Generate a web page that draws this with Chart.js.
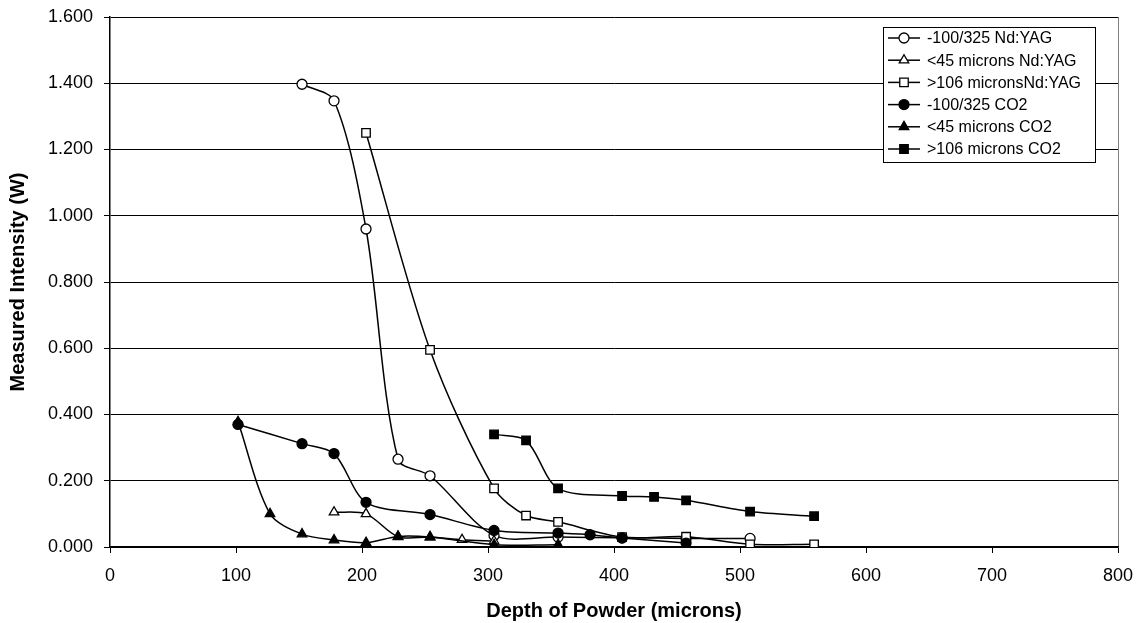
<!DOCTYPE html>
<html>
<head>
<meta charset="utf-8">
<script src="https://cdn.jsdelivr.net/npm/chart.js@4/dist/chart.umd.min.js"></script>
<style>
  html, body { margin: 0; padding: 0; background: #fff; }
  #wrap { width: 1140px; height: 623px; }
</style>
</head>
<body>
<div id="wrap"><canvas id="powderChart" width="1140" height="623"></canvas></div>
<script>
// series names (legend order)
const seriesNames = ['-100/325 Nd:YAG', '<45 microns Nd:YAG', '>106 micronsNd:YAG',
                     '-100/325 CO2', '<45 microns CO2', '>106 microns CO2'];

// depth of powder (microns) per series
const depthNdFine   = [152.4, 177.8, 203.2, 228.6, 254, 304.8, 355.6, 406.4, 457.2, 508];
const depthNdSmall  = [177.8, 203.2, 228.6, 254, 279.4, 304.8];
const depthNdCoarse = [203.2, 254, 304.8, 330.2, 355.6, 406.4, 457.2, 508, 558.8];
const depthCoFine   = [101.6, 152.4, 177.8, 203.2, 254, 304.8, 355.6, 381, 406.4, 457.2];
const depthCoSmall  = [101.6, 127, 152.4, 177.8, 203.2, 228.6, 254, 304.8, 355.6];
const depthCoCoarse = [304.8, 330.2, 355.6, 406.4, 431.8, 457.2, 508, 558.8];

// measured intensity (W) per series
const wNdFine   = [1.397, 1.347, 0.960, 0.265, 0.215, 0.035, 0.030, 0.028, 0.026, 0.026];
const wNdSmall  = [0.105, 0.100, 0.031, 0.030, 0.022, 0.018];
const wNdCoarse = [1.250, 0.595, 0.177, 0.095, 0.076, 0.030, 0.031, 0.008, 0.008];
const wCoFine   = [0.370, 0.312, 0.282, 0.135, 0.098, 0.050, 0.042, 0.037, 0.027, 0.012];
const wCoSmall  = [0.378, 0.100, 0.039, 0.021, 0.013, 0.032, 0.030, 0.007, 0.007];
const wCoCoarse = [0.340, 0.322, 0.177, 0.154, 0.151, 0.141, 0.107, 0.093];

const xTicks = [0, 100, 200, 300, 400, 500, 600, 700, 800];
const yTicks = [0, 0.2, 0.4, 0.6, 0.8, 1.0, 1.2, 1.4, 1.6];

const depths = [depthNdFine, depthNdSmall, depthNdCoarse, depthCoFine, depthCoSmall, depthCoCoarse];
const values = [wNdFine, wNdSmall, wNdCoarse, wCoFine, wCoSmall, wCoCoarse];
const styles = ['circle', 'triangle', 'rect', 'circle', 'triangle', 'rect'];
const filled = [false, false, false, true, true, true];
const radii  = { circle: 5, triangle: 5.5, rect: 6 };

function toPoints(xs, ys) {
  return xs.map((x, i) => ({ x: x, y: ys[i] }));
}

const datasets = seriesNames.map((name, i) => ({
  label: name,
  data: toPoints(depths[i], values[i]),
  borderColor: '#000',
  borderWidth: 1.5,
  backgroundColor: filled[i] ? '#000' : '#fff',
  pointStyle: styles[i],
  pointRadius: radii[styles[i]],
  pointBorderColor: '#000',
  pointBorderWidth: 1.3,
  pointBackgroundColor: filled[i] ? '#000' : '#fff',
  tension: 0.3,
  fill: false,
  order: 5 - i
}));

// legend box drawn inside the plot, like the original
const boxLegend = {
  id: 'boxLegend',
  afterDraw(chart) {
    const ctx = chart.ctx;
    const left = 883, top = 27, w = 212, h = 135, rowH = 22.2;
    ctx.save();
    ctx.fillStyle = '#fff';
    ctx.strokeStyle = '#000';
    ctx.lineWidth = 1;
    ctx.fillRect(left, top, w, h);
    ctx.strokeRect(left + 0.5, top + 0.5, w, h);
    ctx.font = '16px Arial, "Liberation Sans", sans-serif';
    ctx.textBaseline = 'middle';
    chart.data.datasets.forEach((ds, i) => {
      const y = top + 11 + i * rowH;
      ctx.strokeStyle = '#000';
      ctx.lineWidth = 1.5;
      ctx.beginPath();
      ctx.moveTo(left + 5, y);
      ctx.lineTo(left + 37, y);
      ctx.stroke();
      ctx.fillStyle = ds.pointBackgroundColor;
      ctx.strokeStyle = '#000';
      ctx.lineWidth = 1.3;
      Chart.helpers.drawPoint(ctx, {
        pointStyle: ds.pointStyle, radius: ds.pointRadius, rotation: 0, borderWidth: 1.3
      }, left + 21, y);
      ctx.fillStyle = '#000';
      ctx.fillText(ds.label, left + 44, y + 1);
    });
    ctx.restore();
  }
};

const tickFont = { family: 'Arial, "Liberation Sans", sans-serif', size: 18 };
const titleFont = { family: 'Arial, "Liberation Sans", sans-serif', size: 20, weight: 'bold' };

new Chart(document.getElementById('powderChart').getContext('2d'), {
  type: 'line',
  data: { datasets: datasets },
  options: {
    responsive: false,
    animation: false,
    devicePixelRatio: 1,
    layout: { padding: { top: 17, right: 22, bottom: 0, left: 0 } },
    plugins: {
      legend: { display: false },
      tooltip: { enabled: false }
    },
    scales: {
      x: {
        type: 'linear',
        min: 0,
        max: 800,
        afterBuildTicks(scale) { scale.ticks = xTicks.map(v => ({ value: v })); },
        afterFit(scale) { scale.height = 76; scale.paddingLeft = 0; scale.paddingRight = 0; },
        ticks: { font: tickFont, color: '#000', padding: 12, maxRotation: 0 },
        grid: {
          drawOnChartArea: true,
          color: ctx => (ctx.tick && ctx.tick.value === 800 ? '#808080' : 'rgba(0,0,0,0)'),
          tickColor: '#000',
          tickLength: 6,
          lineWidth: 1
        },
        border: { color: '#000', width: 1.5 },
        title: { display: true, text: 'Depth of Powder (microns)', font: titleFont, color: '#000', padding: 0 }
      },
      y: {
        type: 'linear',
        min: 0,
        max: 1.6,
        afterBuildTicks(scale) { scale.ticks = yTicks.map(v => ({ value: v })); },
        afterFit(scale) { scale.width = 110; scale.paddingTop = 0; scale.paddingBottom = 0; },
        ticks: { font: tickFont, color: '#000', padding: 11, callback: v => Number(v).toFixed(3) },
        grid: { color: '#000', tickColor: '#000', tickLength: 6, lineWidth: 1 },
        border: { color: '#000', width: 1.5 },
        title: { display: true, text: 'Measured Intensity (W)', font: titleFont, color: '#000', padding: { top: 6, bottom: 0 } }
      }
    }
  },
  plugins: [boxLegend]
});
</script>
</body>
</html>
